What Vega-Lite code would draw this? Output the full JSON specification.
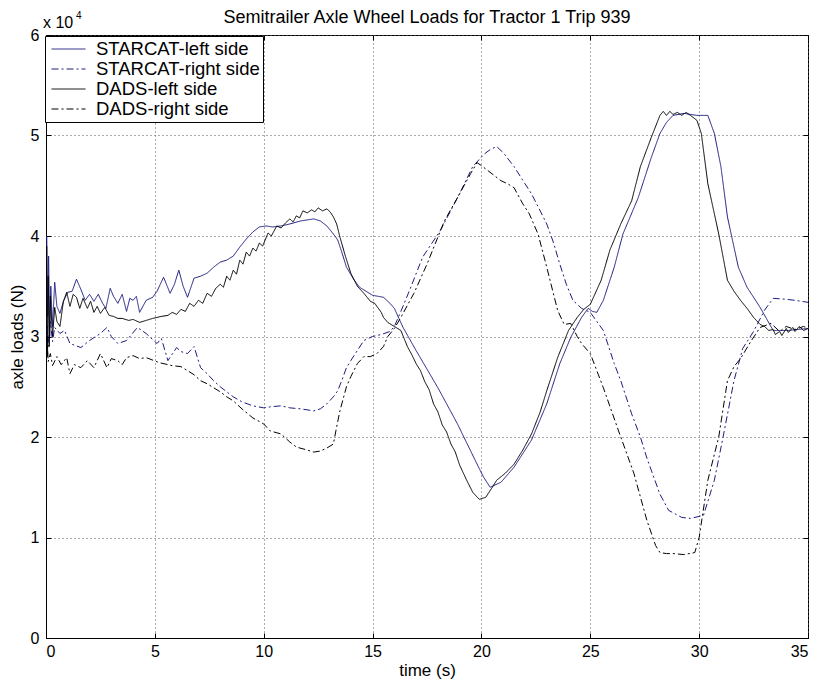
{
 "$schema": "https://vega.github.io/schema/vega-lite/v6.json",
 "width": 762, "height": 603,
 "autosize": "none",
 "padding": {"left": 46, "top": 35, "right": 12, "bottom": 50},
 "background": "white",
 "title": {"text": "Semitrailer Axle Wheel Loads for Tractor 1 Trip 939", "font": "Liberation Sans", "fontSize": 18, "fontWeight": "normal", "offset": -16, "anchor": "middle", "color": "black"},
 "config": {
  "view": {"stroke": "black", "strokeWidth": 1},
  "font": "Liberation Sans",
  "axis": {"gridColor": "#555", "gridDash": [1, 3], "gridOpacity": 1, "gridWidth": 1, "domainColor": "black", "tickColor": "black", "tickSize": -5, "labelFontSize": 16, "labelColor": "black", "labelFont": "Liberation Sans", "titleFont": "Liberation Sans", "titleFontSize": 17, "titleFontWeight": "normal", "titleColor": "black"}
 },
 "resolve": {"axis": {"x": "independent", "y": "independent"}},
 "layer": [
  {
   "data": {"values": [
    {"s":"STARCAT-left side","t":0,"N":30000},{"s":"STARCAT-left side","t":0.03,"N":40000},{"s":"STARCAT-left side","t":0.08,"N":32000},{"s":"STARCAT-left side","t":0.12,"N":38000},{"s":"STARCAT-left side","t":0.17,"N":30000},{"s":"STARCAT-left side","t":0.22,"N":35000},{"s":"STARCAT-left side","t":0.3,"N":31000},{"s":"STARCAT-left side","t":0.4,"N":35400},{"s":"STARCAT-left side","t":0.5,"N":33000},{"s":"STARCAT-left side","t":0.64,"N":32300},{"s":"STARCAT-left side","t":0.8,"N":33500},{"s":"STARCAT-left side","t":1.0,"N":34400},{"s":"STARCAT-left side","t":1.2,"N":34500},{"s":"STARCAT-left side","t":1.4,"N":35700},{"s":"STARCAT-left side","t":1.6,"N":34700},{"s":"STARCAT-left side","t":1.8,"N":33600},{"s":"STARCAT-left side","t":2.0,"N":34200},{"s":"STARCAT-left side","t":2.2,"N":33500},{"s":"STARCAT-left side","t":2.4,"N":34200},{"s":"STARCAT-left side","t":2.6,"N":33300},{"s":"STARCAT-left side","t":2.75,"N":32800},{"s":"STARCAT-left side","t":2.95,"N":34800},{"s":"STARCAT-left side","t":3.1,"N":34000},{"s":"STARCAT-left side","t":3.3,"N":33300},{"s":"STARCAT-left side","t":3.5,"N":34200},{"s":"STARCAT-left side","t":3.7,"N":32500},{"s":"STARCAT-left side","t":3.85,"N":33800},{"s":"STARCAT-left side","t":4.0,"N":33600},{"s":"STARCAT-left side","t":4.15,"N":34000},{"s":"STARCAT-left side","t":4.3,"N":32400},{"s":"STARCAT-left side","t":4.6,"N":33600},{"s":"STARCAT-left side","t":4.9,"N":33900},{"s":"STARCAT-left side","t":5.1,"N":34500},{"s":"STARCAT-left side","t":5.4,"N":35900},{"s":"STARCAT-left side","t":5.7,"N":34300},{"s":"STARCAT-left side","t":5.9,"N":35200},{"s":"STARCAT-left side","t":6.1,"N":36600},{"s":"STARCAT-left side","t":6.3,"N":35000},{"s":"STARCAT-left side","t":6.5,"N":33900},{"s":"STARCAT-left side","t":6.8,"N":35800},{"s":"STARCAT-left side","t":7.1,"N":36000},{"s":"STARCAT-left side","t":7.4,"N":36300},{"s":"STARCAT-left side","t":7.7,"N":36900},{"s":"STARCAT-left side","t":8.0,"N":37400},{"s":"STARCAT-left side","t":8.3,"N":37600},{"s":"STARCAT-left side","t":8.6,"N":38000},{"s":"STARCAT-left side","t":8.9,"N":38900},{"s":"STARCAT-left side","t":9.2,"N":39700},{"s":"STARCAT-left side","t":9.5,"N":40400},{"s":"STARCAT-left side","t":9.8,"N":40900},{"s":"STARCAT-left side","t":10.1,"N":41000},{"s":"STARCAT-left side","t":10.4,"N":40900},{"s":"STARCAT-left side","t":10.8,"N":41000},{"s":"STARCAT-left side","t":11.2,"N":41200},{"s":"STARCAT-left side","t":11.7,"N":41500},{"s":"STARCAT-left side","t":12.3,"N":41700},{"s":"STARCAT-left side","t":12.6,"N":41500},{"s":"STARCAT-left side","t":12.9,"N":41000},{"s":"STARCAT-left side","t":13.2,"N":40200},{"s":"STARCAT-left side","t":13.4,"N":39600},{"s":"STARCAT-left side","t":13.6,"N":38300},{"s":"STARCAT-left side","t":13.8,"N":36900},{"s":"STARCAT-left side","t":14.1,"N":35800},{"s":"STARCAT-left side","t":14.4,"N":34900},{"s":"STARCAT-left side","t":14.7,"N":34500},{"s":"STARCAT-left side","t":15.0,"N":34100},{"s":"STARCAT-left side","t":15.5,"N":33900},{"s":"STARCAT-left side","t":15.8,"N":33300},{"s":"STARCAT-left side","t":16.0,"N":32800},{"s":"STARCAT-left side","t":16.4,"N":30900},{"s":"STARCAT-left side","t":17.0,"N":28600},{"s":"STARCAT-left side","t":18.0,"N":24900},{"s":"STARCAT-left side","t":18.9,"N":21300},{"s":"STARCAT-left side","t":19.8,"N":17300},{"s":"STARCAT-left side","t":20.1,"N":16000},{"s":"STARCAT-left side","t":20.4,"N":15000},{"s":"STARCAT-left side","t":20.9,"N":15500},{"s":"STARCAT-left side","t":21.5,"N":17000},{"s":"STARCAT-left side","t":22.3,"N":19700},{"s":"STARCAT-left side","t":23.0,"N":23300},{"s":"STARCAT-left side","t":23.6,"N":27300},{"s":"STARCAT-left side","t":24.1,"N":29900},{"s":"STARCAT-left side","t":24.6,"N":31900},{"s":"STARCAT-left side","t":24.9,"N":32800},{"s":"STARCAT-left side","t":25.1,"N":32500},{"s":"STARCAT-left side","t":25.3,"N":32400},{"s":"STARCAT-left side","t":25.6,"N":33600},{"s":"STARCAT-left side","t":26.1,"N":36900},{"s":"STARCAT-left side","t":26.5,"N":40200},{"s":"STARCAT-left side","t":27.2,"N":43800},{"s":"STARCAT-left side","t":27.8,"N":47800},{"s":"STARCAT-left side","t":28.2,"N":50200},{"s":"STARCAT-left side","t":28.5,"N":51300},{"s":"STARCAT-left side","t":28.8,"N":52000},{"s":"STARCAT-left side","t":29.3,"N":52200},{"s":"STARCAT-left side","t":29.9,"N":52000},{"s":"STARCAT-left side","t":30.4,"N":52000},{"s":"STARCAT-left side","t":30.7,"N":50200},{"s":"STARCAT-left side","t":31.0,"N":46900},{"s":"STARCAT-left side","t":31.3,"N":41900},{"s":"STARCAT-left side","t":31.8,"N":36900},{"s":"STARCAT-left side","t":32.2,"N":34900},{"s":"STARCAT-left side","t":32.8,"N":32900},{"s":"STARCAT-left side","t":33.4,"N":30600},{"s":"STARCAT-left side","t":34.1,"N":30600},{"s":"STARCAT-left side","t":35.0,"N":30800},

    {"s":"STARCAT-right side","t":0,"N":29000},{"s":"STARCAT-right side","t":0.05,"N":31000},{"s":"STARCAT-right side","t":0.1,"N":29000},{"s":"STARCAT-right side","t":0.2,"N":31500},{"s":"STARCAT-right side","t":0.3,"N":29500},{"s":"STARCAT-right side","t":0.4,"N":30900},{"s":"STARCAT-right side","t":0.64,"N":30300},{"s":"STARCAT-right side","t":0.85,"N":30600},{"s":"STARCAT-right side","t":1.1,"N":29300},{"s":"STARCAT-right side","t":1.6,"N":28900},{"s":"STARCAT-right side","t":2.0,"N":29600},{"s":"STARCAT-right side","t":2.5,"N":30300},{"s":"STARCAT-right side","t":2.8,"N":30900},{"s":"STARCAT-right side","t":3.0,"N":30000},{"s":"STARCAT-right side","t":3.3,"N":29300},{"s":"STARCAT-right side","t":3.7,"N":29600},{"s":"STARCAT-right side","t":4.2,"N":30900},{"s":"STARCAT-right side","t":4.6,"N":30300},{"s":"STARCAT-right side","t":5.1,"N":29300},{"s":"STARCAT-right side","t":5.3,"N":29800},{"s":"STARCAT-right side","t":5.6,"N":27600},{"s":"STARCAT-right side","t":6.0,"N":28900},{"s":"STARCAT-right side","t":6.2,"N":28500},{"s":"STARCAT-right side","t":6.5,"N":28300},{"s":"STARCAT-right side","t":6.8,"N":29000},{"s":"STARCAT-right side","t":7.1,"N":26900},{"s":"STARCAT-right side","t":7.4,"N":26300},{"s":"STARCAT-right side","t":7.7,"N":25600},{"s":"STARCAT-right side","t":8.0,"N":25000},{"s":"STARCAT-right side","t":8.3,"N":24500},{"s":"STARCAT-right side","t":8.6,"N":24000},{"s":"STARCAT-right side","t":9.0,"N":23500},{"s":"STARCAT-right side","t":9.5,"N":23100},{"s":"STARCAT-right side","t":10.0,"N":22900},{"s":"STARCAT-right side","t":10.3,"N":23000},{"s":"STARCAT-right side","t":10.8,"N":23100},{"s":"STARCAT-right side","t":11.2,"N":22900},{"s":"STARCAT-right side","t":11.7,"N":22800},{"s":"STARCAT-right side","t":12.3,"N":22600},{"s":"STARCAT-right side","t":12.6,"N":22800},{"s":"STARCAT-right side","t":12.9,"N":23300},{"s":"STARCAT-right side","t":13.2,"N":24000},{"s":"STARCAT-right side","t":13.4,"N":24600},{"s":"STARCAT-right side","t":13.6,"N":25700},{"s":"STARCAT-right side","t":13.8,"N":26900},{"s":"STARCAT-right side","t":14.0,"N":27600},{"s":"STARCAT-right side","t":14.3,"N":28600},{"s":"STARCAT-right side","t":14.6,"N":29600},{"s":"STARCAT-right side","t":15.0,"N":30000},{"s":"STARCAT-right side","t":15.4,"N":30200},{"s":"STARCAT-right side","t":15.8,"N":30500},{"s":"STARCAT-right side","t":16.0,"N":31000},{"s":"STARCAT-right side","t":16.3,"N":32500},{"s":"STARCAT-right side","t":16.7,"N":34600},{"s":"STARCAT-right side","t":17.3,"N":37900},{"s":"STARCAT-right side","t":18.1,"N":40500},{"s":"STARCAT-right side","t":18.9,"N":43800},{"s":"STARCAT-right side","t":19.6,"N":46900},{"s":"STARCAT-right side","t":20.1,"N":48100},{"s":"STARCAT-right side","t":20.4,"N":48600},{"s":"STARCAT-right side","t":20.7,"N":48900},{"s":"STARCAT-right side","t":21.0,"N":48300},{"s":"STARCAT-right side","t":21.5,"N":46900},{"s":"STARCAT-right side","t":22.0,"N":45200},{"s":"STARCAT-right side","t":22.3,"N":44200},{"s":"STARCAT-right side","t":22.7,"N":42500},{"s":"STARCAT-right side","t":23.0,"N":41200},{"s":"STARCAT-right side","t":23.3,"N":39400},{"s":"STARCAT-right side","t":23.6,"N":37200},{"s":"STARCAT-right side","t":23.9,"N":35200},{"s":"STARCAT-right side","t":24.2,"N":33600},{"s":"STARCAT-right side","t":24.6,"N":32800},{"s":"STARCAT-right side","t":25.0,"N":32400},{"s":"STARCAT-right side","t":25.3,"N":31500},{"s":"STARCAT-right side","t":25.6,"N":30600},{"s":"STARCAT-right side","t":26.1,"N":27300},{"s":"STARCAT-right side","t":26.4,"N":25600},{"s":"STARCAT-right side","t":26.9,"N":22300},{"s":"STARCAT-right side","t":27.3,"N":20000},{"s":"STARCAT-right side","t":27.6,"N":17900},{"s":"STARCAT-right side","t":28.2,"N":14300},{"s":"STARCAT-right side","t":28.6,"N":12700},{"s":"STARCAT-right side","t":29.2,"N":12000},{"s":"STARCAT-right side","t":29.6,"N":11900},{"s":"STARCAT-right side","t":30.2,"N":12200},{"s":"STARCAT-right side","t":30.7,"N":15700},{"s":"STARCAT-right side","t":31.1,"N":20000},{"s":"STARCAT-right side","t":31.6,"N":25600},{"s":"STARCAT-right side","t":32.0,"N":28800},{"s":"STARCAT-right side","t":32.5,"N":30500},{"s":"STARCAT-right side","t":33.0,"N":32600},{"s":"STARCAT-right side","t":33.4,"N":33800},{"s":"STARCAT-right side","t":34.0,"N":33700},{"s":"STARCAT-right side","t":34.4,"N":33600},{"s":"STARCAT-right side","t":35.0,"N":33400},

    {"s":"DADS-left side","t":0,"N":28000},{"s":"DADS-left side","t":0.03,"N":39000},{"s":"DADS-left side","t":0.07,"N":28000},{"s":"DADS-left side","t":0.1,"N":36000},{"s":"DADS-left side","t":0.15,"N":29000},{"s":"DADS-left side","t":0.2,"N":34000},{"s":"DADS-left side","t":0.3,"N":30000},{"s":"DADS-left side","t":0.4,"N":32900},{"s":"DADS-left side","t":0.5,"N":31500},{"s":"DADS-left side","t":0.64,"N":31000},{"s":"DADS-left side","t":0.8,"N":33500},{"s":"DADS-left side","t":0.95,"N":34400},{"s":"DADS-left side","t":1.1,"N":33000},{"s":"DADS-left side","t":1.25,"N":34200},{"s":"DADS-left side","t":1.4,"N":33900},{"s":"DADS-left side","t":1.55,"N":32800},{"s":"DADS-left side","t":1.7,"N":33800},{"s":"DADS-left side","t":1.9,"N":32800},{"s":"DADS-left side","t":2.05,"N":33500},{"s":"DADS-left side","t":2.2,"N":32400},{"s":"DADS-left side","t":2.35,"N":33000},{"s":"DADS-left side","t":2.5,"N":32300},{"s":"DADS-left side","t":2.7,"N":32900},{"s":"DADS-left side","t":2.9,"N":32100},{"s":"DADS-left side","t":3.1,"N":32000},{"s":"DADS-left side","t":3.3,"N":31800},{"s":"DADS-left side","t":3.5,"N":31800},{"s":"DADS-left side","t":3.8,"N":31600},{"s":"DADS-left side","t":4.0,"N":31700},{"s":"DADS-left side","t":4.3,"N":31400},{"s":"DADS-left side","t":4.6,"N":31600},{"s":"DADS-left side","t":4.9,"N":31800},{"s":"DADS-left side","t":5.3,"N":32000},{"s":"DADS-left side","t":5.6,"N":32100},{"s":"DADS-left side","t":5.8,"N":32400},{"s":"DADS-left side","t":6.0,"N":32200},{"s":"DADS-left side","t":6.2,"N":32700},{"s":"DADS-left side","t":6.4,"N":32500},{"s":"DADS-left side","t":6.6,"N":33300},{"s":"DADS-left side","t":6.8,"N":33000},{"s":"DADS-left side","t":7.0,"N":33600},{"s":"DADS-left side","t":7.2,"N":33300},{"s":"DADS-left side","t":7.4,"N":34300},{"s":"DADS-left side","t":7.6,"N":34000},{"s":"DADS-left side","t":7.8,"N":34800},{"s":"DADS-left side","t":8.0,"N":35200},{"s":"DADS-left side","t":8.15,"N":34900},{"s":"DADS-left side","t":8.3,"N":36000},{"s":"DADS-left side","t":8.45,"N":35600},{"s":"DADS-left side","t":8.6,"N":36600},{"s":"DADS-left side","t":8.75,"N":36200},{"s":"DADS-left side","t":8.9,"N":37600},{"s":"DADS-left side","t":9.05,"N":37200},{"s":"DADS-left side","t":9.2,"N":38400},{"s":"DADS-left side","t":9.35,"N":38000},{"s":"DADS-left side","t":9.5,"N":38800},{"s":"DADS-left side","t":9.65,"N":38500},{"s":"DADS-left side","t":9.8,"N":39300},{"s":"DADS-left side","t":9.95,"N":39000},{"s":"DADS-left side","t":10.2,"N":40300},{"s":"DADS-left side","t":10.35,"N":40000},{"s":"DADS-left side","t":10.6,"N":41000},{"s":"DADS-left side","t":10.8,"N":40800},{"s":"DADS-left side","t":11.0,"N":41300},{"s":"DADS-left side","t":11.2,"N":41700},{"s":"DADS-left side","t":11.35,"N":41400},{"s":"DADS-left side","t":11.5,"N":42000},{"s":"DADS-left side","t":11.65,"N":41800},{"s":"DADS-left side","t":11.8,"N":42500},{"s":"DADS-left side","t":12.0,"N":42300},{"s":"DADS-left side","t":12.2,"N":42600},{"s":"DADS-left side","t":12.35,"N":42400},{"s":"DADS-left side","t":12.5,"N":42800},{"s":"DADS-left side","t":12.7,"N":42500},{"s":"DADS-left side","t":12.9,"N":42700},{"s":"DADS-left side","t":13.05,"N":42400},{"s":"DADS-left side","t":13.2,"N":41900},{"s":"DADS-left side","t":13.35,"N":41200},{"s":"DADS-left side","t":13.5,"N":39900},{"s":"DADS-left side","t":13.75,"N":38000},{"s":"DADS-left side","t":14.0,"N":36300},{"s":"DADS-left side","t":14.3,"N":35000},{"s":"DADS-left side","t":14.6,"N":34300},{"s":"DADS-left side","t":14.9,"N":33500},{"s":"DADS-left side","t":15.1,"N":33300},{"s":"DADS-left side","t":15.2,"N":33000},{"s":"DADS-left side","t":15.4,"N":32400},{"s":"DADS-left side","t":15.5,"N":31900},{"s":"DADS-left side","t":15.7,"N":31400},{"s":"DADS-left side","t":16.0,"N":31000},{"s":"DADS-left side","t":16.3,"N":30600},{"s":"DADS-left side","t":16.6,"N":29000},{"s":"DADS-left side","t":16.8,"N":28200},{"s":"DADS-left side","t":17.0,"N":27300},{"s":"DADS-left side","t":17.2,"N":26600},{"s":"DADS-left side","t":17.4,"N":25500},{"s":"DADS-left side","t":17.6,"N":24700},{"s":"DADS-left side","t":17.8,"N":23300},{"s":"DADS-left side","t":18.0,"N":22500},{"s":"DADS-left side","t":18.2,"N":21200},{"s":"DADS-left side","t":18.4,"N":20500},{"s":"DADS-left side","t":18.6,"N":19300},{"s":"DADS-left side","t":18.8,"N":18500},{"s":"DADS-left side","t":19.0,"N":17200},{"s":"DADS-left side","t":19.3,"N":15800},{"s":"DADS-left side","t":19.6,"N":14500},{"s":"DADS-left side","t":19.9,"N":13800},{"s":"DADS-left side","t":20.2,"N":14000},{"s":"DADS-left side","t":20.5,"N":15000},{"s":"DADS-left side","t":20.7,"N":15700},{"s":"DADS-left side","t":21.1,"N":16400},{"s":"DADS-left side","t":21.5,"N":17300},{"s":"DADS-left side","t":21.9,"N":18700},{"s":"DADS-left side","t":22.3,"N":20300},{"s":"DADS-left side","t":22.7,"N":22500},{"s":"DADS-left side","t":23.0,"N":24600},{"s":"DADS-left side","t":23.5,"N":27900},{"s":"DADS-left side","t":24.0,"N":30600},{"s":"DADS-left side","t":24.4,"N":31900},{"s":"DADS-left side","t":24.7,"N":32700},{"s":"DADS-left side","t":25.0,"N":33200},{"s":"DADS-left side","t":25.5,"N":35600},{"s":"DADS-left side","t":25.9,"N":38600},{"s":"DADS-left side","t":26.4,"N":41200},{"s":"DADS-left side","t":26.9,"N":43500},{"s":"DADS-left side","t":27.3,"N":46900},{"s":"DADS-left side","t":27.8,"N":49800},{"s":"DADS-left side","t":28.2,"N":52000},{"s":"DADS-left side","t":28.35,"N":52400},{"s":"DADS-left side","t":28.5,"N":52000},{"s":"DADS-left side","t":28.65,"N":52400},{"s":"DADS-left side","t":28.8,"N":52100},{"s":"DADS-left side","t":29.0,"N":52300},{"s":"DADS-left side","t":29.2,"N":52000},{"s":"DADS-left side","t":29.4,"N":52300},{"s":"DADS-left side","t":29.6,"N":52000},{"s":"DADS-left side","t":29.9,"N":51500},{"s":"DADS-left side","t":30.1,"N":50200},{"s":"DADS-left side","t":30.4,"N":45200},{"s":"DADS-left side","t":30.9,"N":40200},{"s":"DADS-left side","t":31.3,"N":35600},{"s":"DADS-left side","t":31.6,"N":34500},{"s":"DADS-left side","t":31.9,"N":33600},{"s":"DADS-left side","t":32.2,"N":32800},{"s":"DADS-left side","t":32.5,"N":31900},{"s":"DADS-left side","t":32.8,"N":31200},{"s":"DADS-left side","t":33.0,"N":31000},{"s":"DADS-left side","t":33.2,"N":30600},{"s":"DADS-left side","t":33.4,"N":30700},{"s":"DADS-left side","t":33.5,"N":30200},{"s":"DADS-left side","t":33.7,"N":30500},{"s":"DADS-left side","t":33.8,"N":30100},{"s":"DADS-left side","t":34.0,"N":30800},{"s":"DADS-left side","t":34.1,"N":30400},{"s":"DADS-left side","t":34.3,"N":30900},{"s":"DADS-left side","t":34.4,"N":30500},{"s":"DADS-left side","t":34.6,"N":31000},{"s":"DADS-left side","t":34.8,"N":30600},{"s":"DADS-left side","t":35.0,"N":30800},

    {"s":"DADS-right side","t":0,"N":27000},{"s":"DADS-right side","t":0.05,"N":30000},{"s":"DADS-right side","t":0.1,"N":27500},{"s":"DADS-right side","t":0.2,"N":28300},{"s":"DADS-right side","t":0.3,"N":27100},{"s":"DADS-right side","t":0.5,"N":28000},{"s":"DADS-right side","t":0.7,"N":27200},{"s":"DADS-right side","t":0.95,"N":27900},{"s":"DADS-right side","t":1.1,"N":26300},{"s":"DADS-right side","t":1.3,"N":27200},{"s":"DADS-right side","t":1.6,"N":26900},{"s":"DADS-right side","t":1.9,"N":27600},{"s":"DADS-right side","t":2.2,"N":26900},{"s":"DADS-right side","t":2.5,"N":28300},{"s":"DADS-right side","t":2.8,"N":26900},{"s":"DADS-right side","t":3.0,"N":27800},{"s":"DADS-right side","t":3.3,"N":27600},{"s":"DADS-right side","t":3.5,"N":27200},{"s":"DADS-right side","t":3.7,"N":27900},{"s":"DADS-right side","t":4.0,"N":28100},{"s":"DADS-right side","t":4.3,"N":27800},{"s":"DADS-right side","t":4.6,"N":27900},{"s":"DADS-right side","t":5.2,"N":27400},{"s":"DADS-right side","t":5.8,"N":27100},{"s":"DADS-right side","t":6.2,"N":27000},{"s":"DADS-right side","t":6.5,"N":26600},{"s":"DADS-right side","t":6.8,"N":26200},{"s":"DADS-right side","t":7.1,"N":25600},{"s":"DADS-right side","t":7.4,"N":25300},{"s":"DADS-right side","t":7.7,"N":24900},{"s":"DADS-right side","t":8.0,"N":24500},{"s":"DADS-right side","t":8.3,"N":24000},{"s":"DADS-right side","t":8.6,"N":23600},{"s":"DADS-right side","t":9.0,"N":22800},{"s":"DADS-right side","t":9.5,"N":21900},{"s":"DADS-right side","t":10.0,"N":21300},{"s":"DADS-right side","t":10.3,"N":20600},{"s":"DADS-right side","t":10.8,"N":20300},{"s":"DADS-right side","t":11.2,"N":19500},{"s":"DADS-right side","t":11.5,"N":19000},{"s":"DADS-right side","t":12.0,"N":18700},{"s":"DADS-right side","t":12.3,"N":18500},{"s":"DADS-right side","t":12.6,"N":18600},{"s":"DADS-right side","t":12.9,"N":18900},{"s":"DADS-right side","t":13.2,"N":19300},{"s":"DADS-right side","t":13.35,"N":21000},{"s":"DADS-right side","t":13.5,"N":22600},{"s":"DADS-right side","t":13.8,"N":25000},{"s":"DADS-right side","t":14.0,"N":26000},{"s":"DADS-right side","t":14.3,"N":27300},{"s":"DADS-right side","t":14.6,"N":28000},{"s":"DADS-right side","t":14.9,"N":28000},{"s":"DADS-right side","t":15.2,"N":28300},{"s":"DADS-right side","t":15.5,"N":29000},{"s":"DADS-right side","t":15.7,"N":30000},{"s":"DADS-right side","t":16.0,"N":30800},{"s":"DADS-right side","t":16.3,"N":31900},{"s":"DADS-right side","t":16.9,"N":34300},{"s":"DADS-right side","t":17.5,"N":37200},{"s":"DADS-right side","t":18.3,"N":41500},{"s":"DADS-right side","t":19.0,"N":44200},{"s":"DADS-right side","t":19.5,"N":46200},{"s":"DADS-right side","t":19.8,"N":47300},{"s":"DADS-right side","t":20.0,"N":47000},{"s":"DADS-right side","t":20.3,"N":46500},{"s":"DADS-right side","t":20.6,"N":46000},{"s":"DADS-right side","t":20.9,"N":45500},{"s":"DADS-right side","t":21.2,"N":45200},{"s":"DADS-right side","t":21.5,"N":44800},{"s":"DADS-right side","t":21.9,"N":43200},{"s":"DADS-right side","t":22.2,"N":42200},{"s":"DADS-right side","t":22.6,"N":40200},{"s":"DADS-right side","t":23.0,"N":36900},{"s":"DADS-right side","t":23.5,"N":32600},{"s":"DADS-right side","t":23.8,"N":31200},{"s":"DADS-right side","t":24.1,"N":31300},{"s":"DADS-right side","t":24.4,"N":30000},{"s":"DADS-right side","t":24.6,"N":29300},{"s":"DADS-right side","t":25.0,"N":28300},{"s":"DADS-right side","t":25.6,"N":24900},{"s":"DADS-right side","t":26.3,"N":20600},{"s":"DADS-right side","t":27.0,"N":16400},{"s":"DADS-right side","t":27.6,"N":11700},{"s":"DADS-right side","t":28.0,"N":9200},{"s":"DADS-right side","t":28.2,"N":8500},{"s":"DADS-right side","t":28.5,"N":8400},{"s":"DADS-right side","t":28.8,"N":8400},{"s":"DADS-right side","t":29.3,"N":8300},{"s":"DADS-right side","t":29.8,"N":8500},{"s":"DADS-right side","t":30.0,"N":10000},{"s":"DADS-right side","t":30.4,"N":15700},{"s":"DADS-right side","t":30.9,"N":20000},{"s":"DADS-right side","t":31.3,"N":25600},{"s":"DADS-right side","t":31.6,"N":27000},{"s":"DADS-right side","t":31.9,"N":27800},{"s":"DADS-right side","t":32.4,"N":29600},{"s":"DADS-right side","t":32.8,"N":30900},{"s":"DADS-right side","t":33.3,"N":31300},{"s":"DADS-right side","t":33.7,"N":30500},{"s":"DADS-right side","t":34.0,"N":31000},{"s":"DADS-right side","t":34.4,"N":30700},{"s":"DADS-right side","t":34.8,"N":31000},{"s":"DADS-right side","t":35.0,"N":30800}
   ]},
   "mark": {"type": "line", "strokeWidth": 1, "clip": true},
   "encoding": {
    "x": {"field": "t", "type": "quantitative", "scale": {"domain": [0, 35], "nice": false, "zero": false},
          "axis": {"values": [0,5,10,15,20,25,30,35], "title": "time (s)", "titlePadding": 3, "labelPadding": 10, "grid": true}},
    "y": {"field": "N", "type": "quantitative", "scale": {"domain": [0, 60000], "nice": false},
          "axis": {"values": [0,10000,20000,30000,40000,50000,60000], "labelExpr": "format(datum.value/10000,'d')", "title": "axle loads (N)", "titlePadding": 4, "labelPadding": 12, "grid": true}},
    "color": {"field": "s", "type": "nominal",
      "scale": {"domain": ["STARCAT-left side","STARCAT-right side","DADS-left side","DADS-right side"], "range": ["#1c1c80","#1c1c80","#000000","#000000"]},
      "legend": {"title": null, "orient": "none", "legendX": -1, "legendY": 1, "strokeColor": "black", "fillColor": "white", "padding": 3, "clipHeight": 20, "symbolOffset": 3, "symbolType": "stroke", "symbolSize": 1156, "symbolStrokeWidth": 1, "labelFontSize": 18.5, "labelFont": "Liberation Sans", "labelColor": "black", "labelOffset": 10, "rowPadding": 0, "labelLimit": 300}},
    "strokeDash": {"field": "s", "type": "nominal",
      "scale": {"domain": ["STARCAT-left side","STARCAT-right side","DADS-left side","DADS-right side"], "range": [[1,0],[7,3,2,3],[1,0],[7,3,2,3]]},
      "legend": {"title": null, "orient": "none", "legendX": -1, "legendY": 1, "strokeColor": "black", "fillColor": "white", "padding": 3, "clipHeight": 20, "symbolOffset": 3, "symbolType": "stroke", "symbolSize": 1156, "symbolStrokeWidth": 1, "labelFontSize": 18.5, "labelFont": "Liberation Sans", "labelColor": "black", "labelOffset": 10, "rowPadding": 0, "labelLimit": 300}}
   }
  },
  {
   "data": {"values": [{"a": 1}]},
   "mark": {"type": "text", "align": "left", "baseline": "alphabetic", "dx": -3, "dy": -7, "fontSize": 16, "font": "Liberation Sans", "color": "black"},
   "encoding": {"x": {"datum": 0, "type": "quantitative", "axis": {"orient": "top", "values": [0,5,10,15,20,25,30,35], "labels": false, "domain": false, "grid": false, "title": null, "tickSize": -5}},
                "y": {"datum": 60000, "type": "quantitative", "axis": {"orient": "right", "values": [0,10000,20000,30000,40000,50000,60000], "labels": false, "domain": false, "grid": false, "title": null, "tickSize": -5}},
                "text": {"value": "x 10"}}
  },
  {
   "data": {"values": [{"a": 1}]},
   "mark": {"type": "text", "align": "left", "baseline": "alphabetic", "dx": 30, "dy": -16, "fontSize": 10, "font": "Liberation Sans", "color": "black"},
   "encoding": {"x": {"datum": 0, "type": "quantitative", "axis": null}, "y": {"datum": 60000, "type": "quantitative", "axis": null}, "text": {"value": "4"}}
  }
 ]
}
